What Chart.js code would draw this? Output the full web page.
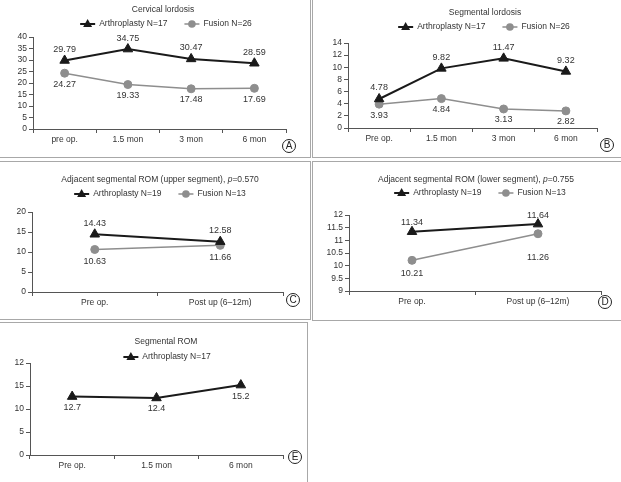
<!DOCTYPE html>
<html>
<head>
<meta charset="utf-8">
<script src="https://cdn.jsdelivr.net/npm/chart.js@4"></script>
<style>
body { margin: 0; background: #fff; width: 621px; height: 482px; overflow: hidden; position: relative; font-family: "Liberation Sans", Arial, sans-serif; }
.panel { position: absolute; border: 1px solid #a8a8a8; box-sizing: border-box; }
canvas { position: absolute; }
.tag { position: absolute; width: 14px; height: 14px; border: 1px solid #222; border-radius: 50%; box-sizing: border-box; font-size: 10px; line-height: 12px; text-align: center; color: #222; }
</style>
</head>
<body>
<div class="panel" style="left:-1px;top:-1px;width:312px;height:159px"></div>
<div class="panel" style="left:312px;top:-1px;width:320px;height:159px"></div>
<div class="panel" style="left:-1px;top:161px;width:312px;height:159px"></div>
<div class="panel" style="left:312px;top:161px;width:320px;height:160px"></div>
<div class="panel" style="left:-1px;top:322px;width:309px;height:200px"></div>

<canvas id="chartA" width="310" height="157" style="left:0;top:0"></canvas>
<canvas id="chartB" width="309" height="157" style="left:312px;top:0"></canvas>
<canvas id="chartC" width="310" height="158" style="left:0;top:161px"></canvas>
<canvas id="chartD" width="309" height="159" style="left:312px;top:161px"></canvas>
<canvas id="chartE" width="307" height="160" style="left:0;top:322px"></canvas>

<span class="tag" style="left:282px;top:139px">A</span>
<span class="tag" style="left:600px;top:138px">B</span>
<span class="tag" style="left:286px;top:293px">C</span>
<span class="tag" style="left:598px;top:295px">D</span>
<span class="tag" style="left:288px;top:450px">E</span>

<script>
// Category labels
const timeLabelsA = ['pre op.', '1.5 mon', '3 mon', '6 mon'];
const timeLabelsB = ['Pre op.', '1.5 mon', '3 mon', '6 mon'];
const romLabels = ['Pre op.', 'Post up (6\u201312m)'];
const segRomLabels = ['Pre op.', '1.5 mon', '6 mon'];

// Series values
const cervicalArthro = [29.79, 34.75, 30.47, 28.59];
const cervicalFusion = [24.27, 19.33, 17.48, 17.69];
const segLordArthro = [4.78, 9.82, 11.47, 9.32];
const segLordFusion = [3.93, 4.84, 3.13, 2.82];
const upperArthro = [14.43, 12.58];
const upperFusion = [10.63, 11.66];
const lowerArthro = [11.34, 11.64];
const lowerFusion = [10.21, 11.26];
const segRomArthro = [12.7, 12.4, 15.2];

// Tick labels of panel E as printed (top tick reads "12")
const segRomTickLabels = ['0', '5', '10', '15', '12'];

const FONT = '"Liberation Sans", Arial, sans-serif';
const TEXT = '#333';
const AXIS = '#555';
const DARK = '#1a1a1a';
const GRAY = '#8e8e8e';

Chart.defaults.font.family = FONT;
Chart.defaults.font.size = 8.5;
Chart.defaults.color = TEXT;

// Value labels next to each point
const valueLabels = {
    id: 'valueLabels',
    afterDatasetsDraw(chart) {
        const ctx = chart.ctx;
        ctx.save();
        ctx.font = '9px ' + FONT;
        ctx.fillStyle = TEXT;
        ctx.textAlign = 'center';
        ctx.textBaseline = 'middle';
        chart.data.datasets.forEach((ds, i) => {
            const meta = chart.getDatasetMeta(i);
            meta.data.forEach((pt, j) => {
                const off = ds.labelOffsets ? ds.labelOffsets[j] : ds.labelOffset;
                ctx.fillText(String(ds.data[j]), pt.x, pt.y + off);
            });
        });
        ctx.restore();
    }
};

// Title and line+marker legend at fixed spots
const header = {
    id: 'header',
    afterDraw(chart, args, opts) {
        const ctx = chart.ctx;
        ctx.save();
        ctx.fillStyle = TEXT;
        ctx.textBaseline = 'middle';
        ctx.textAlign = 'left';

        // title, may contain italic parts
        let total = 0;
        opts.title.forEach(seg => {
            ctx.font = (seg.italic ? 'italic ' : '') + '8.5px ' + FONT;
            seg.w = ctx.measureText(seg.text).width;
            total += seg.w;
        });
        let x = opts.titleX - total / 2;
        opts.title.forEach(seg => {
            ctx.font = (seg.italic ? 'italic ' : '') + '8.5px ' + FONT;
            ctx.fillText(seg.text, x, opts.titleY);
            x += seg.w;
        });

        // legend
        ctx.font = '8.5px ' + FONT;
        const items = chart.data.datasets;
        const widths = items.map(ds => 15 + 4 + ctx.measureText(ds.label).width);
        const legendW = widths.reduce((a, b) => a + b, 0) + 17 * (items.length - 1);
        x = opts.legendX - legendW / 2;
        const y = opts.legendY;
        items.forEach((ds, i) => {
            ctx.strokeStyle = ds.borderColor;
            ctx.fillStyle = ds.borderColor;
            ctx.lineWidth = ds.borderWidth;
            ctx.beginPath();
            ctx.moveTo(x, y);
            ctx.lineTo(x + 15, y);
            ctx.stroke();
            const cx = x + 7.5;
            ctx.beginPath();
            if (ds.pointStyle === 'triangle') {
                ctx.moveTo(cx, y - 5);
                ctx.lineTo(cx + 4.5, y + 3);
                ctx.lineTo(cx - 4.5, y + 3);
                ctx.closePath();
            } else {
                ctx.arc(cx, y, 3.8, 0, Math.PI * 2);
            }
            ctx.fill();
            ctx.fillStyle = TEXT;
            ctx.fillText(ds.label, x + 19, y);
            x += widths[i] + 17;
        });
        ctx.restore();
    }
};

function arthroSet(label, data, offset) {
    return {
        label: label,
        data: data,
        borderColor: DARK,
        backgroundColor: DARK,
        borderWidth: 2,
        pointStyle: 'triangle',
        pointRadius: 5.5,
        pointBorderWidth: 1,
        labelOffset: offset
    };
}

function fusionSet(label, data, offset) {
    return {
        label: label,
        data: data,
        borderColor: GRAY,
        backgroundColor: GRAY,
        borderWidth: 1.5,
        pointStyle: 'circle',
        pointRadius: 4,
        pointBorderWidth: 1,
        labelOffset: offset
    };
}

function makeChart(id, labels, datasets, yOpts, box, head) {
    const ctx = document.getElementById(id).getContext('2d');
    const h = ctx.canvas.height;
    const w = ctx.canvas.width;
    return new Chart(ctx, {
        type: 'line',
        data: { labels: labels, datasets: datasets },
        options: {
            responsive: false,
            animation: false,
            clip: false,
            layout: {
                padding: { top: box.top, left: 0, right: w - box.right, bottom: h - box.bottom - 20 }
            },
            scales: {
                x: {
                    type: 'category',
                    offset: true,
                    grid: { offset: true, drawOnChartArea: false, tickLength: 4, color: AXIS },
                    border: { color: AXIS },
                    ticks: { padding: 2, color: TEXT, maxRotation: 0, autoSkip: false },
                    afterFit: s => { s.height = 20; }
                },
                y: {
                    min: yOpts.min,
                    max: yOpts.max,
                    grid: { drawOnChartArea: false, tickLength: 4, color: AXIS },
                    border: { color: AXIS },
                    ticks: {
                        stepSize: yOpts.step,
                        autoSkip: false,
                        padding: 2,
                        color: TEXT,
                        callback: yOpts.tickLabels
                            ? (v, i) => yOpts.tickLabels[i]
                            : v => v
                    },
                    afterFit: s => { s.width = box.left; }
                }
            },
            plugins: {
                legend: { display: false },
                title: { display: false },
                tooltip: { enabled: false },
                header: head
            }
        },
        plugins: [valueLabels, header]
    });
}

document.addEventListener('DOMContentLoaded', () => {
    makeChart('chartA', timeLabelsA, [
        arthroSet('Arthroplasty N=17', cervicalArthro, -11),
        fusionSet('Fusion N=26', cervicalFusion, 11)
    ], { min: 0, max: 40, step: 5 },
    { left: 33, right: 286, top: 37, bottom: 129 },
    { title: [{ text: 'Cervical lordosis' }], titleX: 163, titleY: 10, legendX: 166, legendY: 24 });

    makeChart('chartB', timeLabelsB, [
        arthroSet('Arthroplasty N=17', segLordArthro, -11),
        fusionSet('Fusion N=26', segLordFusion, 11)
    ], { min: 0, max: 14, step: 2 },
    { left: 36, right: 285, top: 43, bottom: 128 },
    { title: [{ text: 'Segmental lordosis' }], titleX: 173, titleY: 13, legendX: 172, legendY: 27 });

    makeChart('chartC', romLabels, [
        arthroSet('Arthroplasty N=19', upperArthro, -11),
        fusionSet('Fusion N=13', upperFusion, 12)
    ], { min: 0, max: 20, step: 5 },
    { left: 32, right: 283, top: 51, bottom: 131 },
    { title: [{ text: 'Adjacent segmental ROM (upper segment), ' }, { text: 'p', italic: true }, { text: '=0.570' }],
      titleX: 160, titleY: 19, legendX: 160, legendY: 33 });

    const lower = fusionSet('Fusion N=13', lowerFusion, 12);
    lower.labelOffsets = [13, 24];
    makeChart('chartD', romLabels, [
        arthroSet('Arthroplasty N=19', lowerArthro, -9),
        lower
    ], { min: 9, max: 12, step: 0.5 },
    { left: 37, right: 289, top: 54, bottom: 130 },
    { title: [{ text: 'Adjacent segmental ROM (lower segment), ' }, { text: 'p', italic: true }, { text: '=0.755' }],
      titleX: 164, titleY: 19, legendX: 168, legendY: 32 });

    makeChart('chartE', segRomLabels, [
        arthroSet('Arthroplasty N=17', segRomArthro, 11)
    ], { min: 0, max: 20, step: 5, tickLabels: segRomTickLabels },
    { left: 30, right: 283, top: 41, bottom: 133 },
    { title: [{ text: 'Segmental ROM' }], titleX: 166, titleY: 20, legendX: 167, legendY: 35 });
});
</script>
</body>
</html>
